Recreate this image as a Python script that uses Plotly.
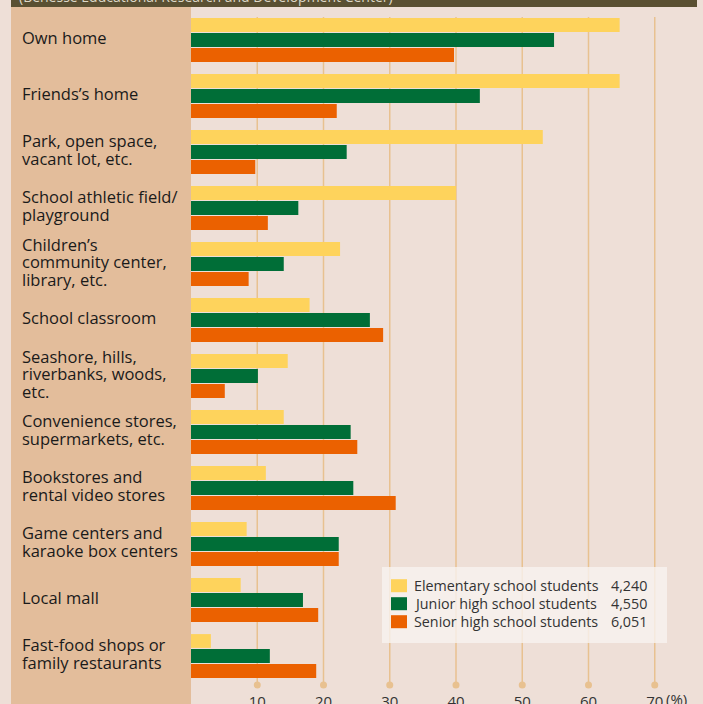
import plotly.graph_objects as go

# ---------------- data ----------------
categories = [
    "Own home",
    "Friends’s home",
    "Park, open space,<br>vacant lot, etc.",
    "School athletic field/<br>playground",
    "Children’s<br>community center,<br>library, etc.",
    "School classroom",
    "Seashore, hills,<br>riverbanks, woods,<br>etc.",
    "Convenience stores,<br>supermarkets, etc.",
    "Bookstores and<br>rental video stores",
    "Game centers and<br>karaoke box centers",
    "Local mall",
    "Fast-food shops or<br>family restaurants",
]
elementary = [64.7, 64.7, 53.1, 40.0, 22.5, 17.9, 14.6, 14.0, 11.3, 8.4, 7.5, 3.0]
junior     = [54.8, 43.6, 23.5, 16.2, 14.0, 27.0, 10.1, 24.1, 24.5, 22.3, 16.9, 11.9]
senior     = [39.7, 22.0,  9.7, 11.6,  8.7, 29.0,  5.1, 25.1, 30.9, 22.3, 19.2, 18.9]
series_names = ["Elementary school students", "Junior high school students", "Senior high school students"]
series_counts = ["4,240", "4,550", "6,051"]
tick_values = [10, 20, 30, 40, 50, 60, 70]
tick_labels = ["10", "20", "30", "40", "50", "60", "70"]
header_text = "(Benesse Educational Research and Development Center)"

# ---------------- style ----------------
W, H = 703, 704
ML, MR, MT, MB = 191, 6, 12, 20
PW, PH = W - ML - MR, H - MT - MB
YELLOW, GREEN, ORANGE = "#FED35C", "#006E37", "#EB6100"
COLORS = [YELLOW, GREEN, ORANGE]
PINK, TAN, GRID, DARK = "#EEDFD7", "#E3BD9B", "#E8C190", "#5A5032"
FONT = "Open Sans"

def px_x(px):
    return (px - ML) / PW

def px_y(py):
    return (H - MB - py) / PH

fig = go.Figure()
for name, vals, col in zip(series_names, [elementary, junior, senior], COLORS):
    fig.add_trace(go.Bar(y=categories, x=vals, orientation="h", name=name,
                         marker=dict(color=col, line=dict(width=0)), showlegend=False))

shapes = [
    dict(type="rect", xref="paper", yref="paper", x0=px_x(191), x1=px_x(697), y0=px_y(704), y1=px_y(7),
         fillcolor=PINK, line=dict(width=0), layer="below"),
    dict(type="rect", xref="paper", yref="paper", x0=px_x(11), x1=px_x(191), y0=px_y(704), y1=px_y(7),
         fillcolor=TAN, line=dict(width=0), layer="below"),
    dict(type="rect", xref="paper", yref="paper", x0=px_x(11), x1=px_x(697), y0=px_y(7), y1=px_y(-5),
         fillcolor=DARK, line=dict(width=0), layer="below"),
]
for v in tick_values:
    shapes.append(dict(type="line", xref="x", yref="paper", x0=v, x1=v, y0=px_y(685), y1=px_y(17),
                       line=dict(color=GRID, width=1.5), layer="below"))
    shapes.append(dict(type="circle", xref="x", yref="paper", xsizemode="pixel", ysizemode="pixel",
                       xanchor=v, yanchor=px_y(685), x0=-3.5, x1=3.5, y0=-3.5, y1=3.5,
                       fillcolor=GRID, line=dict(width=0), layer="below"))
# legend box
shapes.append(dict(type="rect", xref="paper", yref="paper", x0=px_x(382), x1=px_x(667),
                   y0=px_y(643), y1=px_y(567), fillcolor="rgba(248,243,240,0.8)",
                   line=dict(width=0), layer="above"))

annotations = []
for i, (name, cnt, col) in enumerate(zip(series_names, series_counts, COLORS)):
    cy = 585.7 + 18 * i
    shapes.append(dict(type="rect", xref="paper", yref="paper", x0=px_x(391), x1=px_x(407),
                       y0=px_y(cy + 6.5), y1=px_y(cy - 6.5), fillcolor=col,
                       line=dict(width=0), layer="above"))
    annotations.append(dict(text=name, xref="paper", yref="paper", x=px_x(411.5), y=px_y(cy),
                            xanchor="left", yanchor="middle", showarrow=False,
                            font=dict(family=FONT, size=14.3, color="#333333")))
    annotations.append(dict(text=cnt, xref="paper", yref="paper", x=px_x(649), y=px_y(cy),
                            xanchor="right", yanchor="middle", showarrow=False,
                            font=dict(family=FONT, size=14.3, color="#333333")))

LS = 17.5
for cat in categories:
    lines = cat.split("<br>")
    n = len(lines)
    for k, ln in enumerate(lines):
        off = (k - (n - 1) / 2) * LS
        annotations.append(dict(text=ln, xref="paper", yref="y", x=px_x(20), y=cat,
                                xanchor="left", yanchor="middle", yshift=2.5 - off, showarrow=False,
                                font=dict(family=FONT, size=16.5, color="#1A1A1A")))

annotations.append(dict(text="(%)", xref="paper", yref="paper", x=px_x(664), y=px_y(699),
                        xanchor="left", yanchor="middle", showarrow=False,
                        font=dict(family=FONT, size=15, color="#333333")))
annotations.append(dict(text=header_text, xref="paper", yref="paper", x=px_x(17), y=px_y(-3.5),
                        xanchor="left", yanchor="middle", showarrow=False,
                        font=dict(family=FONT, size=14, color="#DDD8C8")))

fig.update_layout(
    width=W, height=H,
    margin=dict(l=ML, r=MR, t=MT, b=MB, pad=0),
    paper_bgcolor=PINK, plot_bgcolor="rgba(0,0,0,0)",
    barmode="group", bargap=0.196, bargroupgap=0.08,
    shapes=shapes, annotations=annotations,
    showlegend=False,
    xaxis=dict(range=[0, PW / 6.625], showgrid=False, zeroline=False, showline=False,
               tickvals=tick_values, ticktext=tick_labels, ticks="", ticklabelstandoff=7,
               automargin=False,
               tickfont=dict(family=FONT, size=15, color="#333333"), fixedrange=True),
    yaxis=dict(type="category", autorange="reversed", showticklabels=False, showgrid=False,
               zeroline=False, showline=False, ticks="", automargin=False),
)

fig.write_html("out.html")
